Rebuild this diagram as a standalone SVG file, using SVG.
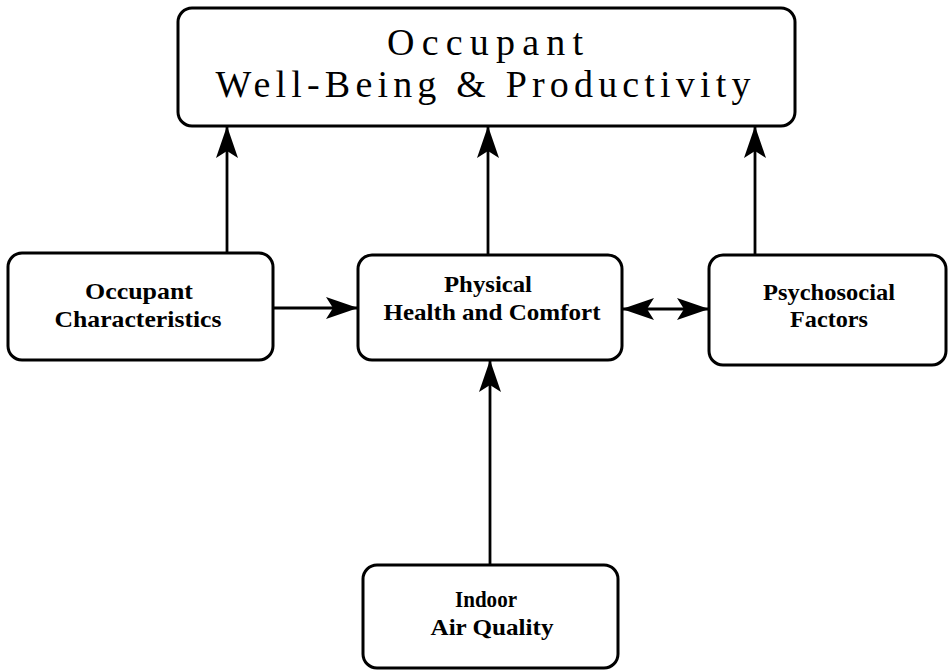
<svg xmlns="http://www.w3.org/2000/svg" width="951" height="672" viewBox="0 0 951 672">
  <style>
    .box { fill: #ffffff; stroke: #000000; stroke-width: 3; }
    .title { font-family: "Liberation Serif", "DejaVu Serif", serif; font-size: 38px; fill: #000; text-anchor: middle; }
    .lbl { font-family: "Liberation Serif", "DejaVu Serif", serif; font-size: 23px; font-weight: bold; fill: #000; text-anchor: middle; }
    .conn { stroke: #000; stroke-width: 2.8; fill: none; }
  </style>
  <defs>
    <marker id="arr" viewBox="0 0 32 22" refX="31" refY="11" markerWidth="32" markerHeight="22" markerUnits="userSpaceOnUse" orient="auto-start-reverse">
      <path d="M0,0 L32,11 L0,22 L7,11 Z" fill="#000"/>
    </marker>
  </defs>
  <rect width="951" height="672" fill="#ffffff"/>

  <g id="connectors">
    <line class="conn" x1="227" y1="253" x2="227" y2="127" marker-end="url(#arr)"/>
    <line class="conn" x1="488" y1="255" x2="488" y2="127" marker-end="url(#arr)"/>
    <line class="conn" x1="755" y1="255" x2="755" y2="127" marker-end="url(#arr)"/>
    <line class="conn" x1="273" y1="308" x2="357" y2="308" marker-end="url(#arr)"/>
    <line class="conn" x1="623" y1="309" x2="708" y2="309" marker-start="url(#arr)" marker-end="url(#arr)"/>
    <line class="conn" x1="490" y1="565" x2="490" y2="361" marker-end="url(#arr)"/>
  </g>

  <g id="node-wellbeing">
    <rect class="box" x="178" y="8" width="617" height="118" rx="14"/>
    <text class="title" x="485" y="55" textLength="196" lengthAdjust="spacing">Occupant</text>
    <text class="title" x="483" y="97" textLength="535" lengthAdjust="spacing">Well-Being &amp; Productivity</text>
  </g>

  <g id="node-occupant">
    <rect class="box" x="8" y="253" width="265" height="107" rx="14"/>
    <text class="lbl" x="139" y="299" textLength="108" lengthAdjust="spacingAndGlyphs">Occupant</text>
    <text class="lbl" x="138" y="327" textLength="167" lengthAdjust="spacingAndGlyphs">Characteristics</text>
  </g>

  <g id="node-physical">
    <rect class="box" x="358" y="255" width="264" height="105" rx="14"/>
    <text class="lbl" x="488" y="292" textLength="88" lengthAdjust="spacingAndGlyphs">Physical</text>
    <text class="lbl" x="492" y="320" textLength="217" lengthAdjust="spacingAndGlyphs">Health and Comfort</text>
  </g>

  <g id="node-psychosocial">
    <rect class="box" x="709" y="255" width="237" height="110" rx="14"/>
    <text class="lbl" x="829" y="300" textLength="132" lengthAdjust="spacingAndGlyphs">Psychosocial</text>
    <text class="lbl" x="829" y="327" textLength="78" lengthAdjust="spacingAndGlyphs">Factors</text>
  </g>

  <g id="node-iaq">
    <rect class="box" x="363" y="565" width="255" height="103" rx="14"/>
    <text class="lbl" x="486" y="607" textLength="62" lengthAdjust="spacingAndGlyphs">Indoor</text>
    <text class="lbl" x="492" y="635" textLength="123" lengthAdjust="spacingAndGlyphs">Air Quality</text>
  </g>
</svg>
